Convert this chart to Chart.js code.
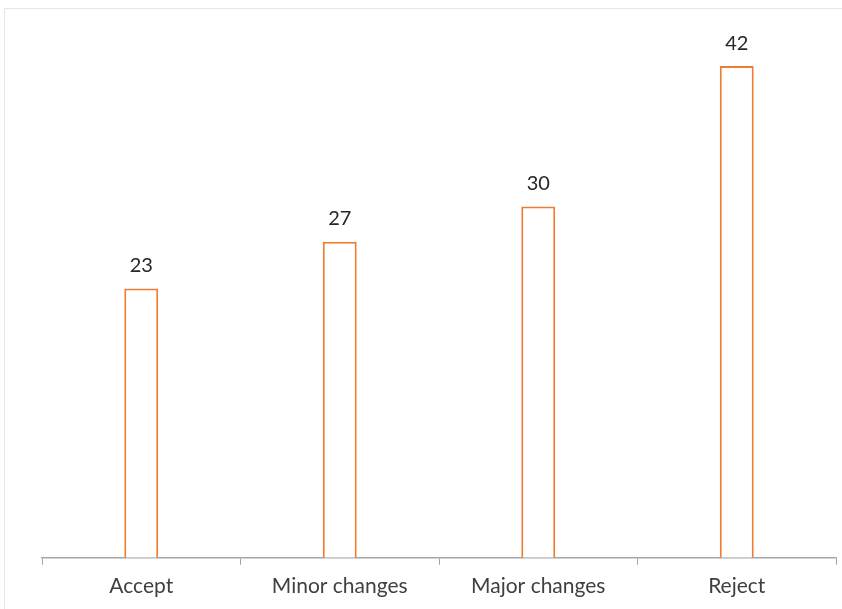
<!DOCTYPE html>
<html>
<head>
<meta charset="utf-8">
<script src="https://cdn.jsdelivr.net/npm/chart.js@4"></script>
<style>
  html, body { margin: 0; padding: 0; background: #fff; }
  #wrap { width: 842px; height: 609px; }
</style>
</head>
<body>
<div id="wrap"><canvas id="review-chart" width="842" height="609"></canvas></div>
<script>
/* decisions chart */
const labels = ['Accept', 'Minor changes', 'Major changes', 'Reject'];
const counts = [23, 27, 30, 42];

// draws the number above each bar and the faint outer frame
const valueLabels = {
  id: 'valueLabels',
  beforeDraw(chart) {
    const ctx = chart.ctx;
    ctx.save();
    ctx.strokeStyle = '#e6e6e6';
    ctx.lineWidth = 1;
    ctx.strokeRect(4.5, 8.5, 900, 700);
    ctx.restore();
  },
  afterDatasetsDraw(chart) {
    const ctx = chart.ctx;
    const meta = chart.getDatasetMeta(0);
    ctx.save();
    ctx.font = '20px Lato, "Open Sans", sans-serif';
    ctx.fillStyle = '#262626';
    ctx.textAlign = 'center';
    ctx.textBaseline = 'middle';
    meta.data.forEach((bar, i) => {
      ctx.fillText(counts[i], bar.x, bar.y - 23);
    });
    ctx.restore();
  }
};

const data = {
  labels: labels,
  datasets: [
    {
      label: 'Count',
      backgroundColor: '#ffffff',
      borderColor: '#ED7D31',
      borderWidth: 2,
      data: counts,
      barPercentage: 0.171,
      categoryPercentage: 1
    }
  ]
};

const config = {
  type: 'bar',
  data: data,
  options: {
    responsive: false,
    animation: false,
    layout: {
      padding: { left: 42, right: 6, top: 31, bottom: 1 }
    },
    plugins: {
      legend: { display: false },
      tooltip: { enabled: false }
    },
    scales: {
      x: {
        grid: {
          display: true,
          drawOnChartArea: false,
          drawTicks: true,
          tickLength: 7,
          color: '#a6a6a6'
        },
        border: { color: '#a6a6a6', width: 1.5 },
        ticks: {
          color: '#404040',
          font: { family: 'Lato, "Open Sans", sans-serif', size: 21 },
          padding: 9
        }
      },
      y: {
        display: false,
        min: 0,
        max: 45
      }
    }
  },
  plugins: [valueLabels]
};

const reviewChart = new Chart(
  document.getElementById('review-chart'), config
);
/* decisions chart end */
</script>
</body>
</html>
